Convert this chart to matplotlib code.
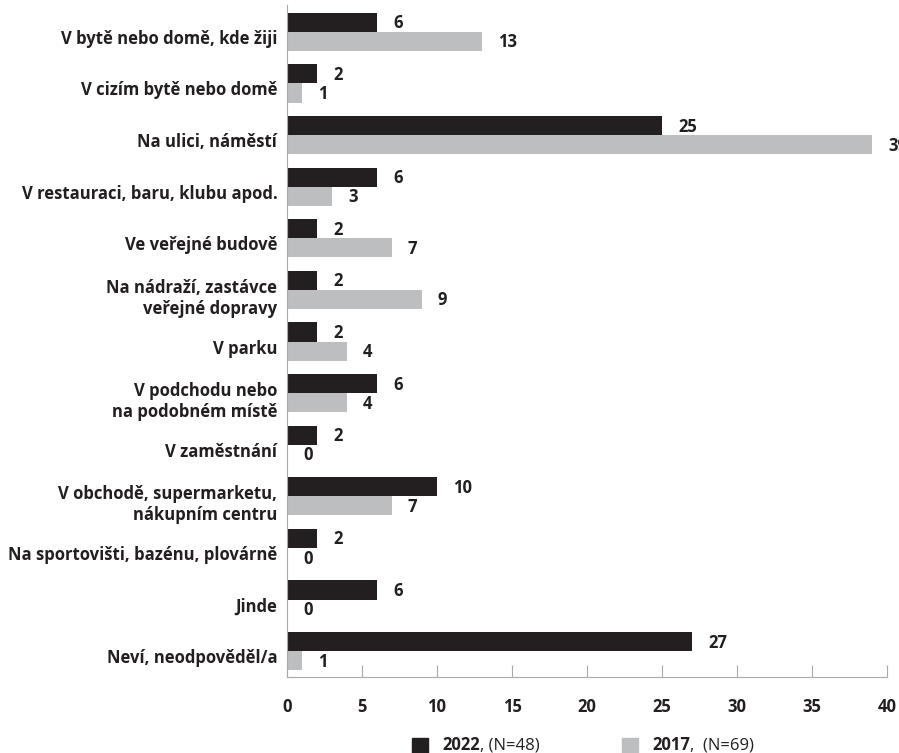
import matplotlib
matplotlib.use("Agg")
import matplotlib.pyplot as plt
from matplotlib.patches import Rectangle
from matplotlib.transforms import ScaledTranslation
import numpy as np

plt.rcParams['font.family'] = ['Open Sans', 'DejaVu Sans']

categories = [
    "V bytě nebo domě, kde žiji",
    "V cizím bytě nebo domě",
    "Na ulici, náměstí",
    "V restauraci, baru, klubu apod.",
    "Ve veřejné budově",
    "Na nádraží, zastávce\nveřejné dopravy",
    "V parku",
    "V podchodu nebo\nna podobném místě",
    "V zaměstnání",
    "V obchodě, supermarketu,\nnákupním centru",
    "Na sportovišti, bazénu, plovárně",
    "Jinde",
    "Neví, neodpověděl/a",
]
values_2022 = [6, 2, 25, 6, 2, 2, 2, 6, 2, 10, 2, 6, 27]
values_2017 = [13, 1, 39, 3, 7, 9, 4, 4, 0, 7, 0, 0, 1]
x_ticks = [0, 5, 10, 15, 20, 25, 30, 35, 40]

dark = "#231f20"
grey = "#bcbec0"
axis_grey = "#a7a9ac"
fs = 12

fig = plt.figure(figsize=(8.99, 7.53), dpi=100)
ax = fig.add_axes([287 / 899, 1 - 677 / 753, 600 / 899, (677 - 5) / 753])

y = np.arange(len(categories))
h = 0.37
ax.barh(y - h / 2, values_2022, height=h, color=dark)
ax.barh(y + h / 2, values_2017, height=h, color=grey)

# value labels, a fixed number of pixels right of the bar end
off = ScaledTranslation(16 / 100, -1 / 100, fig.dpi_scale_trans)
for i in range(len(categories)):
    ax.text(values_2022[i], y[i] - h / 2, str(values_2022[i]), transform=ax.transData + off,
            ha='left', va='center', fontsize=fs, fontweight='bold', color=dark, clip_on=False)
    ax.text(values_2017[i], y[i] + h / 2, str(values_2017[i]), transform=ax.transData + off,
            ha='left', va='center', fontsize=fs, fontweight='bold', color=dark, clip_on=False)

ax.set_xlim(0, 40)
ax.set_ylim(12.5, -0.52)
ax.set_xticks(x_ticks)
ax.set_yticks(y)
ax.set_yticklabels(categories, fontsize=fs, fontweight='bold', color=dark)
ax.tick_params(axis='y', length=0, pad=7)
ax.tick_params(axis='x', direction='in', length=8.6, color=axis_grey, pad=15,
               labelsize=fs, labelcolor=dark)
for lab in ax.get_xticklabels():
    lab.set_fontweight('bold')
for lab in ax.get_yticklabels():
    lab.set_transform(lab.get_transform() + ScaledTranslation(0, -5 / 100, fig.dpi_scale_trans))

for s in ['top', 'right']:
    ax.spines[s].set_visible(False)
ax.spines['left'].set_color(axis_grey)
ax.spines['bottom'].set_color(axis_grey)

# legend: bold year followed by regular N
legend_items = [("2022", ", (N=48)", dark, 412), ("2017", ",  (N=69)", grey, 622)]
for year, rest, col, px in legend_items:
    fig.add_artist(Rectangle((px / 899, 1 - 754 / 753), 16 / 899, 16 / 753,
                             transform=fig.transFigure, color=col))
    t = fig.text((px + 30) / 899, 1 - 745 / 753, year, fontsize=fs, fontweight='bold',
                 color=dark, va='center')
    ax.annotate(rest, xy=(1, 0), xycoords=t, va='bottom', ha='left',
                fontsize=fs, color=dark, annotation_clip=False)

fig.savefig("out.png", dpi=100)
